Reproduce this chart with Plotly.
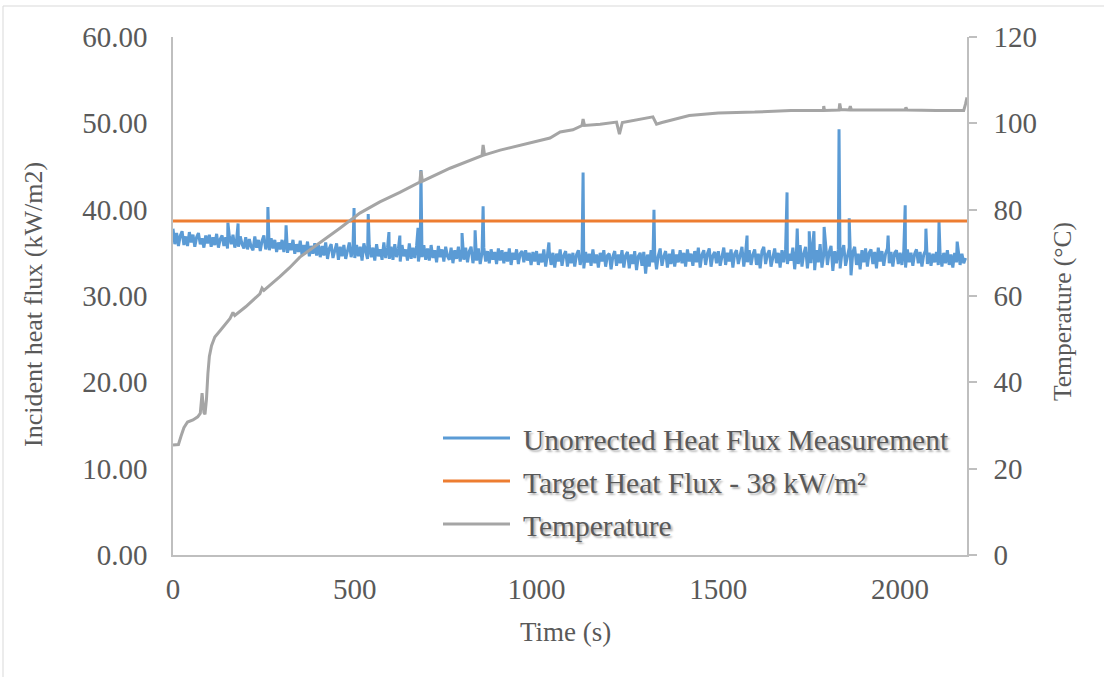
import plotly.graph_objects as go

# ---------------- data ----------------
# Heat flux measurement sampled every 5 s (t = 0 .. 2180 s), kW/m2
flux_t0 = 0
flux_dt = 5
flux_base = [
    37.8, 36.0, 37.3, 35.8, 37.0, 37.5, 35.9, 36.9, 35.8, 37.4, 36.2, 37.1, 35.7, 36.8, 37.3, 36.0, 36.7, 35.6, 37.0, 36.1,
    37.1, 35.7, 36.8, 35.9, 37.2, 35.6, 36.6, 37.0, 35.8, 36.8, 35.5, 36.9, 36.0, 37.1, 35.6, 36.5, 35.7, 36.9, 36.0, 35.5,
    36.8, 35.4, 36.6, 35.7, 35.3, 36.9, 35.6, 36.5, 35.2, 36.4, 37.0, 35.4, 36.3, 35.3, 36.7, 35.5, 36.5, 35.1, 36.2, 35.4,
    36.5, 35.1, 36.6, 35.0, 36.1, 35.3, 36.5, 34.9, 36.0, 35.1, 36.4, 34.7, 35.9, 35.0, 36.3, 34.6, 35.8, 34.9, 36.1, 34.7,
    35.9, 34.5, 35.8, 34.7, 36.2, 34.3, 35.5, 36.0, 34.4, 35.4, 36.1, 34.2, 35.7, 34.6, 35.9, 34.3, 35.4, 36.2, 34.5, 35.6,
    34.4, 35.9, 34.6, 35.7, 34.1, 36.1, 35.2, 34.3, 35.8, 34.5, 35.6, 34.1, 36.0, 34.6, 35.4, 34.2, 36.2, 34.4, 35.6, 34.3,
    35.7, 34.2, 36.0, 34.5, 35.5, 34.0, 35.9, 34.6, 35.4, 34.1, 36.1, 34.3, 35.6, 34.4, 35.8, 34.0, 35.3, 34.5, 35.9, 34.2,
    35.5, 34.1, 35.9, 34.4, 35.3, 33.9, 35.8, 34.5, 35.4, 34.0, 35.7, 34.6, 34.2, 35.6, 33.8, 35.3, 34.3, 35.7, 34.0, 35.4,
    34.2, 35.6, 33.9, 35.2, 35.7, 33.8, 35.1, 34.1, 35.5, 33.7, 35.0, 35.6, 34.0, 35.2, 33.8, 35.4, 34.2, 35.1, 33.7, 35.5,
    34.1, 35.3, 33.8, 35.1, 34.0, 35.5, 33.6, 35.0, 34.2, 35.4, 33.7, 34.9, 35.2, 33.9, 35.3, 34.1, 35.0, 33.6, 35.1, 34.0,
    35.2, 33.6, 34.9, 33.9, 35.4, 33.4, 34.8, 35.2, 33.6, 35.0, 33.3, 34.9, 34.0, 35.4, 33.5, 34.7, 35.2, 33.4, 34.9, 33.8,
    35.0, 33.4, 34.8, 35.3, 33.6, 34.7, 33.2, 35.1, 33.9, 34.9, 33.5, 35.4, 33.8, 34.8, 33.3, 35.0, 34.0, 35.3, 33.4, 34.7,
    34.9, 33.1, 34.6, 35.2, 33.5, 34.8, 33.8, 35.3, 33.3, 34.7, 35.1, 33.2, 34.8, 33.7, 35.2, 33.0, 34.6, 35.0, 33.5, 35.1,
    32.6, 34.8, 33.4, 35.3, 33.9, 34.9, 33.1, 34.7, 35.5, 33.5, 34.6, 35.2, 33.3, 34.9, 33.7, 35.4, 33.4, 34.8, 33.9, 35.3,
    33.8, 35.0, 33.4, 35.4, 34.0, 34.9, 33.5, 35.2, 33.9, 35.6, 33.3, 34.8, 35.3, 33.6, 34.9, 35.5, 33.4, 34.7, 35.1, 33.8,
    35.2, 33.5, 34.8, 35.6, 33.6, 35.0, 34.0, 35.4, 33.3, 34.9, 35.3, 33.7, 34.7, 35.7, 33.4, 35.0, 33.9, 35.3, 33.6, 34.8,
    35.4, 33.6, 34.9, 33.2, 35.2, 35.7, 33.7, 34.8, 35.3, 33.4, 34.7, 35.5, 33.8, 35.0, 33.3, 35.3, 33.9, 35.4, 33.7, 34.9,
    34.1, 35.6, 33.1, 35.3, 33.7, 35.9, 33.4, 34.9, 35.7, 33.2, 35.2, 33.8, 35.8, 33.0, 35.3, 33.9, 36.0, 33.3, 34.8, 35.5,
    33.6, 35.1, 35.8, 32.9, 35.2, 33.8, 35.4, 33.2, 35.0, 35.9, 33.5, 34.8, 35.6, 32.4, 35.1, 35.7, 33.6, 34.9, 33.1, 35.3,
    33.9, 35.5, 33.4, 35.0, 35.4, 33.7, 35.1, 33.2, 35.6, 34.0, 35.2, 33.5, 34.9, 35.5, 33.8, 35.1, 33.4, 35.0, 35.3, 33.7,
    35.0, 33.6, 35.2, 33.3, 35.4, 33.9, 35.0, 33.5, 34.9, 35.4, 33.8, 35.1, 33.4, 34.8, 35.3, 33.7, 35.0, 33.5, 34.9, 33.9,
    35.1, 33.6, 34.9, 33.4, 35.0, 33.8, 35.3, 33.6, 34.8, 33.3, 35.0, 33.9, 35.2, 33.6, 34.9, 33.8, 34.4,
]

# Short spikes in the heat-flux signal (time s, value kW/m2)
spike_t = [151, 179, 261, 311, 498, 537, 594, 624, 674, 682, 795, 831, 853,
           1034, 1128, 1323, 1579, 1689, 1717, 1750, 1763, 1791, 1832, 1860,
           1967, 2014, 2071, 2107, 2157]
spike_v = [38.5, 38.4, 40.3, 38.2, 40.2, 39.5, 37.4, 37.0, 37.9, 44.6, 37.3, 37.6, 40.4,
           36.2, 44.3, 40.0, 37.0, 42.0, 37.8, 37.5, 37.5, 38.0, 49.3, 39.0,
           37.0, 40.5, 37.8, 38.6, 36.3]

target_t = [0, 2184]
target_v = [38.7, 38.7]

temp_t = [0, 15, 22, 30, 40, 55, 68, 75, 80, 85, 88, 92, 96, 100, 106, 115, 130,
          157, 165, 170, 200, 239, 245, 250, 294, 320, 349, 404, 459, 514, 569,
          624, 679, 682, 686, 762, 850, 853, 857, 900, 1037, 1065, 1100, 1125,
          1128, 1132, 1175, 1220, 1228, 1236, 1300, 1320, 1330, 1345, 1420, 1500,
          1600, 1700, 1789, 1790, 1792, 1832, 1834, 1837, 1860, 1863, 1866, 2014,
          2016, 2019, 2100, 2175, 2180, 2184]
temp_v = [25.5, 25.6, 27.5, 29.5, 30.8, 31.3, 32.0, 32.8, 37.5, 33.0, 32.6, 36.0, 42.0,
          46.0, 48.5, 50.5, 52.0, 54.8, 56.2, 55.5, 57.5, 60.5, 61.8, 61.3, 64.5,
          66.5, 69.0, 72.3, 75.7, 79.2, 81.8, 84.0, 86.4, 89.0, 86.6, 89.6, 92.5,
          95.0, 92.7, 93.8, 96.6, 98.0, 98.5, 99.5, 101.0, 99.5, 99.8, 100.3, 97.5,
          100.2, 101.2, 101.5, 99.8, 100.2, 101.8, 102.4, 102.6, 103.0, 103.0,
          104.0, 103.0, 103.1, 104.6, 103.2, 103.1, 104.0, 103.1, 103.1, 103.7,
          103.1, 103.0, 103.0, 104.5, 106.0]

x_ticks = [0, 500, 1000, 1500, 2000]
x_max = 2184

series_names = ["Unorrected Heat Flux Measurement",
                "Target Heat Flux - 38 kW/m²",
                "Temperature"]
series_colors = ["#5B9BD5", "#ED7D31", "#A5A5A5"]

# merge baseline + spikes
pts = [(flux_t0 + i * flux_dt, v) for i, v in enumerate(flux_base)]
pts += list(zip(spike_t, spike_v))
pts.sort(key=lambda p: p[0])
flux_t = [p[0] for p in pts]
flux_v = [p[1] for p in pts]

FONT = "Liberation Serif, Times New Roman, serif"
GREY_TXT = "#595959"
AX = "#BFBFBF"

# pixel -> paper helpers (plot area: x 173..967, y 37..555)
def px(x):
    return (x - 173) / 794.0

def py(y):
    return (555 - y) / 518.0

fig = go.Figure()
fig.add_trace(go.Scatter(x=flux_t, y=flux_v, mode="lines",
                         line=dict(color=series_colors[0], width=3),
                         name=series_names[0]))
fig.add_trace(go.Scatter(x=target_t, y=target_v, mode="lines",
                         line=dict(color=series_colors[1], width=3),
                         name=series_names[1]))
fig.add_trace(go.Scatter(x=temp_t, y=temp_v, mode="lines", yaxis="y2",
                         line=dict(color=series_colors[2], width=3),
                         name=series_names[2]))

fig.update_layout(
    width=1104, height=677,
    margin=dict(l=173, r=137, t=37, b=122),
    paper_bgcolor="white", plot_bgcolor="white",
    font=dict(family=FONT, size=29, color=GREY_TXT),
    showlegend=False,
    xaxis=dict(range=[0, x_max], tickvals=x_ticks, showgrid=False,
               zeroline=False, showline=True, linecolor=AX, linewidth=1.5,
               ticks="", ticklabelstandoff=7),
    yaxis=dict(range=[0, 60], dtick=10, tickformat=".2f", showgrid=False,
               zeroline=False, showline=True, linecolor=AX, linewidth=1.5,
               ticks="", ticklabelstandoff=18),
    yaxis2=dict(range=[0, 120], dtick=20, overlaying="y", side="right",
                showgrid=False, zeroline=False, showline=True, linecolor=AX,
                linewidth=1.5, ticks="outside", ticklen=8, tickcolor=AX,
                tickwidth=1.5, ticklabelstandoff=11),
)

annos = [
    dict(text="Time (s)", x=px(565), y=py(632), size=27),
    dict(text="Incident heat flux (kW/m2)", x=px(33), y=py(305), textangle=-90, size=26),
    dict(text="Temperature (°C)", x=px(1063), y=py(312), textangle=-90, size=25.5),
]
for a in annos:
    size = a.pop("size")
    fig.add_annotation(xref="paper", yref="paper", showarrow=False,
                       xanchor="center", yanchor="middle",
                       font=dict(family=FONT, size=size, color=GREY_TXT), **a)

# manual legend with long line samples
leg_rows_y = [438, 481, 524]
for name, col, yy in zip(series_names, series_colors, leg_rows_y):
    fig.add_shape(type="line", xref="paper", yref="paper",
                  x0=px(443), x1=px(510), y0=py(yy), y1=py(yy),
                  line=dict(color=col, width=3))
    fig.add_annotation(xref="paper", yref="paper", showarrow=False,
                       text=name, x=px(521), y=py(yy + 2),
                       xanchor="left", yanchor="middle",
                       font=dict(family=FONT, size=29.5, color=GREY_TXT,
                                 shadow="2px 2px 2px #b5b5b5"))

# light outer frame of the chart area
fig.add_shape(type="rect", xref="paper", yref="paper",
              x0=px(3), x1=px(1110), y0=py(690), y1=py(6),
              line=dict(color="#D9D9D9", width=1), layer="below")

fig.write_html("out.html")
